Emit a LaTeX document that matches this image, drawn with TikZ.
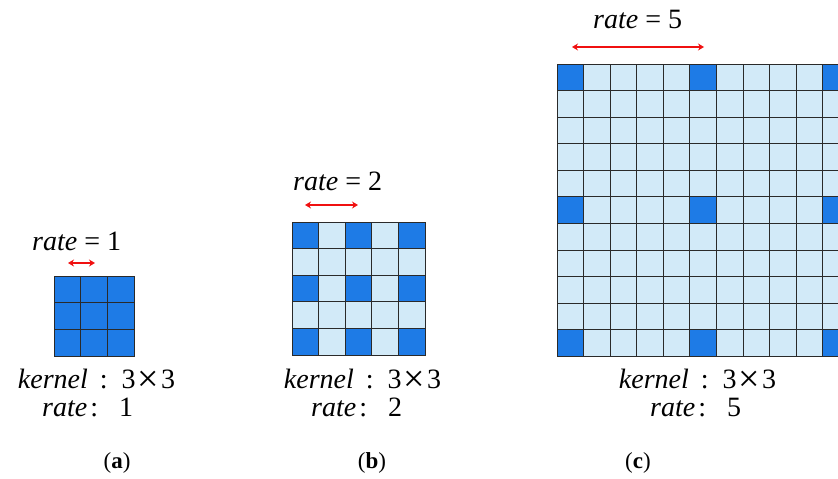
\documentclass[tikz,border=0pt]{standalone}
\usepackage{fontspec}
\setmainfont{Liberation Serif}
\usetikzlibrary{arrows.meta}
\definecolor{darkcell}{HTML}{1E7BE6}
\definecolor{lightcell}{HTML}{D2EAF8}
\definecolor{gridline}{HTML}{2A2A2A}
\definecolor{arrowred}{HTML}{F01010}
\tikzset{
  cellstyle/.style={draw=gridline, line width=0.7pt},
  borderstyle/.style={draw=gridline, line width=1pt},
  ratearrow/.style={draw=arrowred, line width=1.4pt, {Stealth[length=6pt,width=7pt]}-{Stealth[length=6pt,width=7pt]}},
  bigtext/.style={font=\fontsize{28}{32}\selectfont, inner sep=0pt},
  captext/.style={font=\fontsize{23}{27}\selectfont, inner sep=0pt}
}
\newcommand\bigtimes{{\fontsize{38}{38}\selectfont\raisebox{-3pt}[\height][0pt]{×}}}
\newcommand\kerneltext{\textit{kernel}\hspace{12pt}:\hspace{14pt}3\hspace{2pt}\bigtimes\hspace{2pt}3}
\newcommand\dilgrid[5]{% x, y, cell, n-1, rate
  \foreach \i in {0,...,#4}{\foreach \j in {0,...,#4}{
    \pgfmathtruncatemacro\isdark{(mod(\i,#5)==0)&&(mod(\j,#5)==0)?1:0}
    \ifnum\isdark=1 \def\cellfill{darkcell}\else\def\cellfill{lightcell}\fi
    \filldraw[cellstyle, fill=\cellfill] (#1+\i*#3, #2+\j*#3) rectangle ++(#3,#3);
  }}
  \draw[borderstyle] (#1,#2) rectangle ++(#4*#3+#3,#4*#3+#3);
}
\begin{document}
\begin{tikzpicture}[x=1pt,y=-1pt]
\useasboundingbox (0,0) rectangle (838,479);
\clip (0,0) rectangle (838,479);
% grids
\dilgrid{54}{276}{26.67}{2}{1}
\dilgrid{292}{222}{26.6}{4}{2}
\dilgrid{557}{64}{26.55}{10}{5}
% arrows
\coordinate (a1) at (68,263);
\coordinate (a2) at (95,263);
\draw[ratearrow] (a1) -- (a2);
\coordinate (b1) at (305,205);
\coordinate (b2) at (358,205);
\draw[ratearrow] (b1) -- (b2);
\coordinate (c1) at (572,47);
\coordinate (c2) at (704,47);
\draw[ratearrow] (c1) -- (c2);
% rate titles
\node[bigtext, anchor=base west] (ta) at (32,250) {\textit{rate} = 1};
\node[bigtext, anchor=base west] (tb) at (293,190) {\textit{rate} = 2};
\node[bigtext, anchor=base west] (tc) at (593,28) {\textit{rate} = 5};
% kernel labels
\node[bigtext, anchor=base] (ka) at (96.5,388) {\kerneltext};
\node[bigtext, anchor=base] (kb) at (362.5,388) {\kerneltext};
\node[bigtext, anchor=base] (kc) at (697.5,388) {\kerneltext};
\node[bigtext, anchor=base west] (ra) at (42,416) {\textit{rate}\hspace{3pt}:\hspace{21pt}1};
\node[bigtext, anchor=base west] (rb) at (311,416) {\textit{rate}\hspace{3pt}:\hspace{21pt}2};
\node[bigtext, anchor=base west] (rc) at (650,416) {\textit{rate}\hspace{3pt}:\hspace{21pt}5};
% captions
\node[captext] (la) at (117,463) {(\textbf{a})};
\node[captext] (lb) at (372,463) {(\textbf{b})};
\node[captext] (lc) at (638,463) {(\textbf{c})};
\end{tikzpicture}
\end{document}
